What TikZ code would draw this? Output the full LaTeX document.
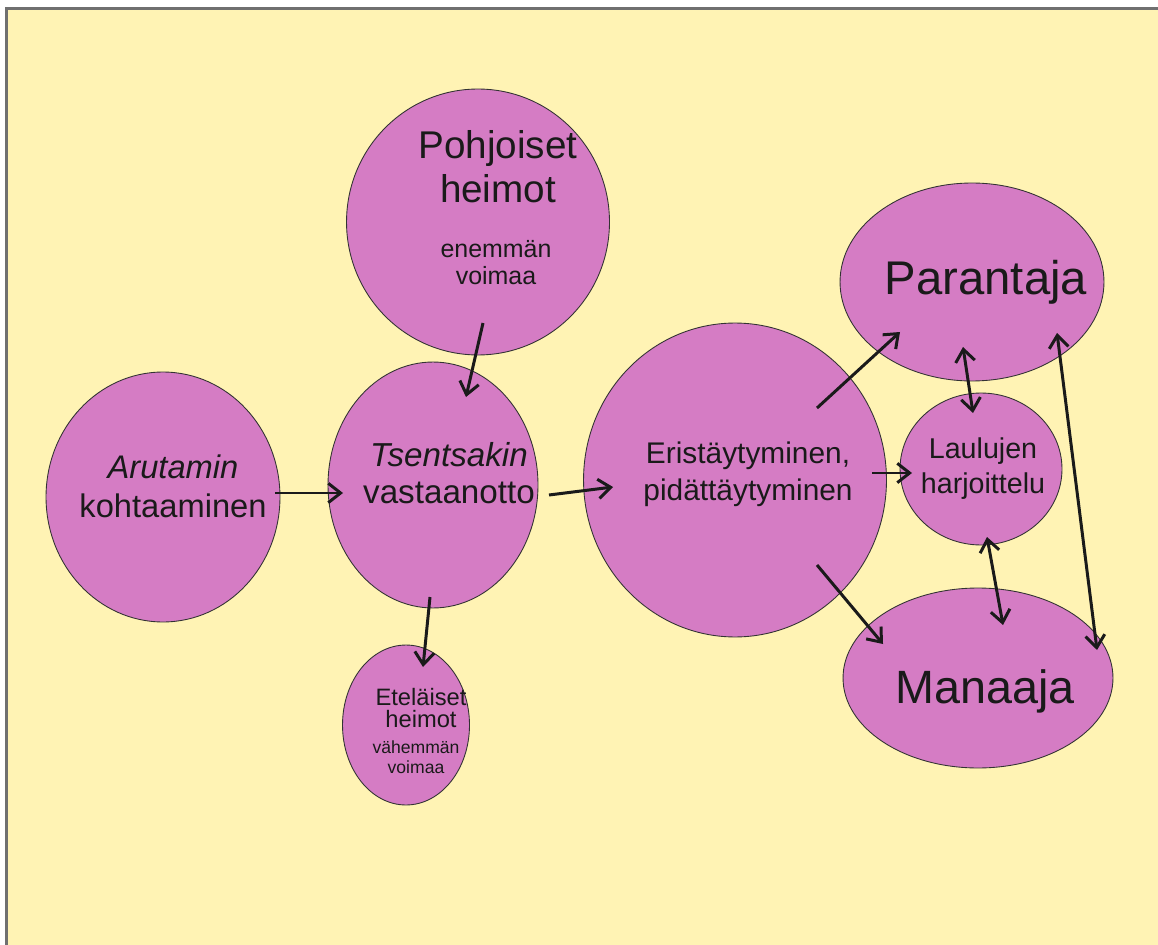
\documentclass[tikz,border=0pt]{standalone}
\usepackage{fontspec}
\setmainfont{Liberation Sans}
\usetikzlibrary{shapes.geometric,arrows.meta}
\definecolor{bgyellow}{HTML}{FFF3B4}
\definecolor{blobpurple}{HTML}{D57CC4}
\definecolor{framegray}{HTML}{707070}
\definecolor{inkblack}{HTML}{1A1A1A}
\tikzset{
  blob/.style={ellipse, draw=black!80, line width=0.5pt, fill=blobpurple, inner sep=0pt},
  lbl/.style={anchor=base, align=center, text=inkblack, inner sep=0pt},
  conn/.style={draw=inkblack, line width=1.7pt, -{Straight Barb[length=7pt,width=11pt]}},
  dconn/.style={draw=inkblack, line width=1.7pt, {Straight Barb[length=7pt,width=11pt]}-{Straight Barb[length=7pt,width=11pt]}}
}
\newcommand{\fs}[2]{\fontsize{#1}{#2}\selectfont}
\begin{document}
\begin{tikzpicture}[x=0.02cm,y=-0.02cm]
\useasboundingbox (0,0) rectangle (1158,945);
\fill[white] (0,0) rectangle (1158,945);
\fill[bgyellow] (7,9) rectangle (1158,945);
\draw[framegray, line width=1.2pt] (6.5,945) -- (6.5,8.5) -- (1158,8.5);

% blobs
\node[blob, minimum width=4.68cm, minimum height=5.0cm] (aru) at (163,497) {};
\node[blob, minimum width=4.2cm, minimum height=4.92cm] (tse) at (433,485) {};
\node[blob, minimum width=5.26cm, minimum height=5.32cm] (poh) at (478,222) {};
\node[blob, minimum width=2.54cm, minimum height=3.2cm] (ete) at (406,725) {};
\node[blob, minimum width=6.06cm, minimum height=6.28cm] (eri) at (735,480) {};
\node[blob, minimum width=5.28cm, minimum height=3.96cm] (par) at (972,282) {};
\node[blob, minimum width=3.24cm, minimum height=3.04cm] (lau) at (981,469) {};
\node[blob, minimum width=5.4cm, minimum height=3.6cm] (man) at (978,678) {};

% connector end points
\coordinate (aruOut) at (275,493);
\coordinate (tseIn) at (343,493);
\coordinate (tseOut) at (549,495);
\coordinate (eriIn) at (613,487);
\coordinate (pohOut) at (483,323);
\coordinate (tseTop) at (466,397);
\coordinate (tseBot) at (430,597);
\coordinate (eteIn) at (423,667);
\coordinate (eriNE) at (817,408);
\coordinate (parIn) at (900,332);
\coordinate (eriE) at (872,473);
\coordinate (lauIn) at (912,473);
\coordinate (eriSE) at (817,565);
\coordinate (manIn) at (883,644);
\coordinate (parBot) at (963,347);
\coordinate (lauTop) at (973,413);
\coordinate (lauBot) at (987,537);
\coordinate (manTop) at (1003,625);
\coordinate (parRight) at (1057,333);
\coordinate (manRight) at (1097,650);

% connectors
\draw[conn] (aruOut) -- (tseIn);
\draw[conn] (tseOut) -- (eriIn);
\draw[conn] (pohOut) -- (tseTop);
\draw[conn] (tseBot) -- (eteIn);
\draw[conn] (eriNE) -- (parIn);
\draw[conn] (eriE) -- (lauIn);
\draw[conn] (eriSE) -- (manIn);
\draw[dconn] (parBot) -- (lauTop);
\draw[dconn] (lauBot) -- (manTop);
\draw[dconn] (parRight) -- (manRight);

% labels (anchor = baseline of last line)
\node[lbl, font=\fs{22pt}{25.5pt}] (pohT) at (498,203) {Pohjoiset\\heimot};
\node[lbl, font=\fs{14.2pt}{15.9pt}] (pohS) at (496,285) {enemmän\\voimaa};
\node[lbl, font=\fs{18.6pt}{22.1pt}] (aruT) at (173,517) {\textit{Arutamin}\\kohtaaminen};
\node[lbl, font=\fs{18.9pt}{20.8pt}] (tseT) at (449,503) {\textit{Tsentsakin}\\vastaanotto};
\node[lbl, font=\fs{17pt}{21pt}] (eriT) at (748,500) {Eristäytyminen,\\pidättäytyminen};
\node[lbl, font=\fs{26.9pt}{30pt}] (parT) at (986,295) {Parantaja};
\node[lbl, font=\fs{16.3pt}{19.8pt}] (lauT) at (983,493) {Laulujen\\harjoittelu};
\node[lbl, font=\fs{26.6pt}{30pt}] (manT) at (985,703) {Manaaja};
\node[lbl, font=\fs{13.5pt}{12.5pt}] (eteT) at (421,727) {Eteläiset\\heimot};
\node[lbl, font=\fs{10pt}{11.3pt}] (eteS) at (416,773) {vähemmän\\voimaa};
\end{tikzpicture}
\end{document}
